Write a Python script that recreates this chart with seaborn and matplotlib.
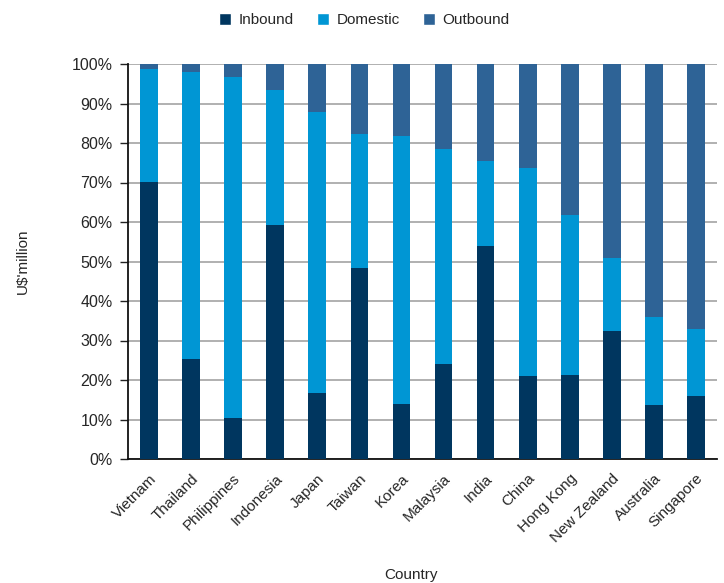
import matplotlib
matplotlib.use("Agg")
import matplotlib.pyplot as plt
import seaborn as sns
import pandas as pd
import numpy as np
from matplotlib.ticker import PercentFormatter, FixedLocator
from matplotlib.patches import Patch

countries = ["Vietnam", "Thailand", "Philippines", "Indonesia", "Japan", "Taiwan", "Korea",
             "Malaysia", "India", "China", "Hong Kong", "New Zealand", "Australia", "Singapore"]
inbound = [70.1, 25.3, 10.4, 59.2, 16.8, 48.4, 13.9, 24.1, 53.9, 21.0, 21.3, 32.4, 13.7, 15.9]
domestic = [28.6, 72.7, 86.3, 34.2, 71.0, 33.9, 67.9, 54.4, 21.5, 52.6, 40.5, 18.5, 22.2, 17.0]
outbound = [1.3, 2.0, 3.3, 6.6, 12.2, 17.7, 18.2, 21.5, 24.6, 26.4, 38.2, 49.1, 64.1, 67.1]

series = ["Inbound", "Domestic", "Outbound"]
colors = {"Inbound": "#00365F", "Domestic": "#0096D4", "Outbound": "#2E6396"}

df = pd.DataFrame({"Country": countries, "Inbound": inbound,
                   "Domestic": domestic, "Outbound": outbound})
df["c_in"] = df["Inbound"]
df["c_dom"] = df["Inbound"] + df["Domestic"]
df["c_out"] = df["c_dom"] + df["Outbound"]

sns.set_style("white")
plt.rcParams["font.family"] = ["Liberation Sans", "DejaVu Sans"]

fig = plt.figure(figsize=(7.24, 5.83), dpi=100)
ax = fig.add_axes([128 / 724, (583 - 459) / 583, (717 - 128) / 724, (459 - 64) / 583])

w = 0.42
for col, s in [("c_out", "Outbound"), ("c_dom", "Domestic"), ("c_in", "Inbound")]:
    sns.barplot(data=df, x="Country", y=col, color=colors[s], width=w,
                saturation=1, ax=ax, zorder=3, errorbar=None,
                linewidth=0, edgecolor="none")

n = len(countries)
ax.set_xlim(-0.5, n - 0.5)
ax.set_ylim(0, 100)
ax.set_yticks(np.arange(0, 101, 10))
ax.yaxis.set_major_formatter(PercentFormatter(decimals=0))
ax.grid(axis="y", color="#AAAAAA", linewidth=1.3, zorder=0)
ax.set_axisbelow(True)

ax.set_xticks(range(n))
ax.set_xticklabels(countries, rotation=45, ha="right", rotation_mode="anchor", fontsize=11)
ax.xaxis.set_minor_locator(FixedLocator(np.arange(-0.5, n, 1.0)))
ax.tick_params(axis="x", which="major", length=0, pad=9)
ax.tick_params(axis="x", which="minor", length=6, width=1.5, color="#444444", direction="out")
ax.tick_params(axis="y", length=6, width=1, color="#222222", direction="out",
               labelsize=11.5, pad=5, left=True)

for s in ["top", "right"]:
    ax.spines[s].set_visible(False)
for s in ["left", "bottom"]:
    ax.spines[s].set_visible(True)
    ax.spines[s].set_color("#111111")
    ax.spines[s].set_linewidth(1.3)

ax.set_ylabel("U$'million", fontsize=11)
ax.yaxis.set_label_coords(-0.166, 0.5)
ax.set_xlabel("Country", fontsize=11)
ax.xaxis.set_label_coords(0.48, -0.276)

handles = [Patch(facecolor=colors[s], label=s) for s in series]
fig.legend(handles=handles, loc="center", bbox_to_anchor=(0.503, 1 - 20 / 583), ncol=3,
           frameon=False, fontsize=11, handlelength=0.8, handleheight=0.8,
           handletextpad=0.5, columnspacing=1.5)

fig.savefig("out.png", dpi=100)
